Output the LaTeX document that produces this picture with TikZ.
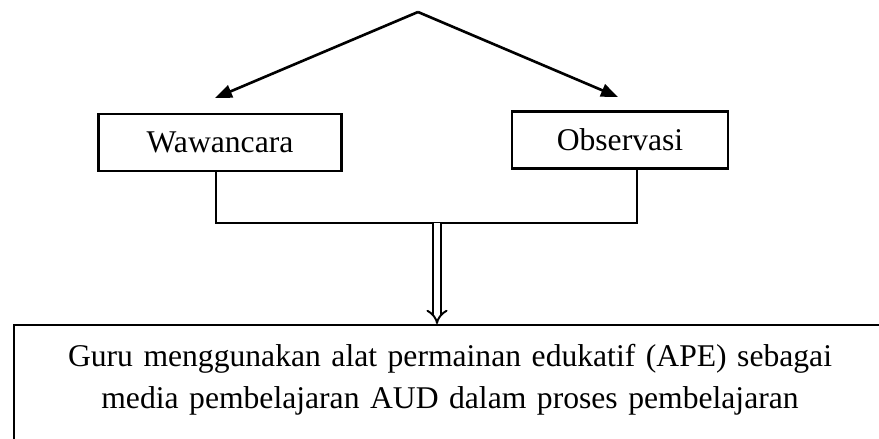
\documentclass[tikz,border=0pt]{standalone}
\usepackage{fontspec}
\setmainfont{Liberation Serif}
\usetikzlibrary{arrows.meta,calc}

\begin{document}
\begin{tikzpicture}[x=0.02cm,y=-0.02cm,
  methodbox/.style={draw,line width=1.4pt,inner sep=0pt,minimum height=1.14cm,
    font=\fontsize{18pt}{22pt}\selectfont},
  resultbox/.style={draw,line width=1.4pt,text width=17.2cm,align=center,
    inner xsep=0.12cm,inner ysep=0pt,text height=0.82cm,text depth=2.2cm,
    font=\fontsize{18pt}{24pt}\selectfont},
  branch/.style={line width=1.5pt,-{Triangle[length=0.34cm,width=0.26cm]}},
  link/.style={line width=0.75pt},
  flow/.style={double,line width=1.1pt,double distance=3pt,-{Implies}}]
  %Page frame
  \useasboundingbox (0,0) rectangle (879,439);
  \clip (0,0) rectangle (879,439);
  %Top split
  \coordinate (apex) at (418,12);
  \coordinate (tipL) at (215,98);
  \coordinate (tipR) at (618,97);
  \draw[branch] (apex) -- (tipL);
  \draw[branch] (apex) -- (tipR);
  %Methods
  \node[methodbox,minimum width=4.86cm] (waw) at (220,142.5) {Wawancara};
  \node[methodbox,minimum width=4.32cm] (obs) at (620,140) {Observasi};
  %Joining line
  \coordinate (join) at (437,223);
  \draw[link] ($(waw.south)+(-4,0)$) |- (join) -| ($(obs.south)+(17,0)$);
  %Result
  \node[resultbox,anchor=north] (result) at (450,324)
    {Guru menggunakan alat permainan edukatif (APE) sebagai\\
     media pembelajaran AUD dalam proses pembelajaran};
  \draw[flow] (join) -- (join |- result.north);
\end{tikzpicture}
\end{document}
